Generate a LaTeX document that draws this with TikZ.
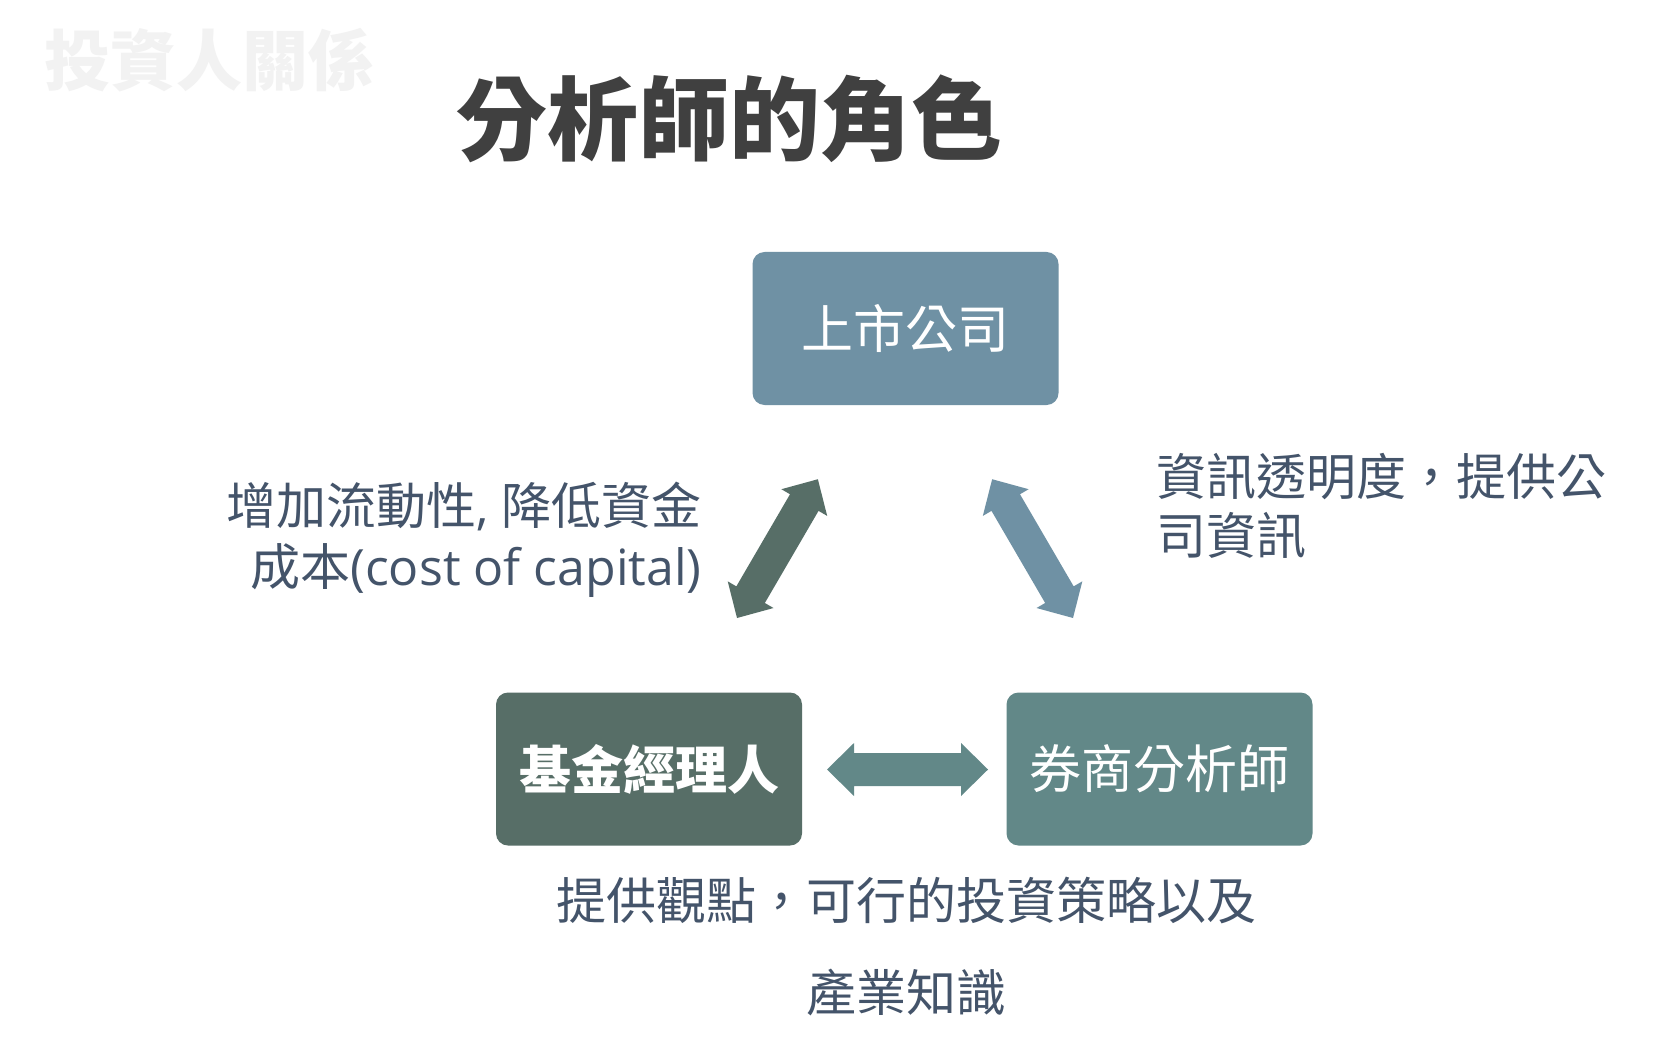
\documentclass[tikz,border=0pt]{standalone}
\usepackage{fontspec}
\setmainfont{Noto Sans CJK TC}
\newfontfamily\latinf{Open Sans}
\usetikzlibrary{calc}
\definecolor{cTop}{HTML}{6F91A4}
\definecolor{cFund}{HTML}{576E67}
\definecolor{cBroker}{HTML}{628888}
\definecolor{cLabel}{HTML}{44546A}
\definecolor{cTitle}{HTML}{404040}
\definecolor{cMark}{HTML}{F2F2F2}
% block double arrow between two named coordinates
\newcommand\blockarrow[3]{%
  \fill[#3] let \p1=(#1), \p2=(#2),
    \n1={atan2(\y2-\y1,\x2-\x1)}, \n2={veclen(\x2-\x1,\y2-\y1)} in
    [shift={(\p1)}, rotate=\n1]
    (0pt,0pt) -- (13.5pt,13.25pt) -- (13.5pt,8.25pt)
    -- ({(\n2-13.5)*1pt},8.25pt) -- ({(\n2-13.5)*1pt},13.25pt)
    -- ({\n2*1pt},0pt)
    -- ({(\n2-13.5)*1pt},-13.25pt) -- ({(\n2-13.5)*1pt},-8.25pt)
    -- (13.5pt,-8.25pt) -- (13.5pt,-13.25pt) -- cycle;}
\begin{document}
\begin{tikzpicture}[x=0.5pt,y=-0.5pt,
  box/.style={rounded corners=6pt, minimum width=153pt, minimum height=76.5pt,
    inner sep=0pt, text=white, font=\fontsize{26pt}{30pt}\selectfont},
  lbl/.style={text=cLabel, inner sep=0pt, font=\fontsize{25pt}{30pt}\selectfont}]
\useasboundingbox[fill=white] (0,0) rectangle (1668,1053);
\node[text=cMark, font=\bfseries\fontsize{33pt}{36pt}\selectfont, inner sep=0pt] (mark) at (209,60.5) {投資人關係};
\node[text=cTitle, font=\bfseries\fontsize{45.5pt}{50pt}\selectfont, inner sep=0pt] (title) at (729,119) {分析師的角色};
\node[box, fill=cTop] (listed) at (905.5,328.5) {上市公司};
\node[box, fill=cFund, font=\bfseries\fontsize{26pt}{30pt}\selectfont] (fund) at (649,769) {基金經理人};
\node[box, fill=cBroker] (broker) at (1159.5,769) {券商分析師};
% arrow end points
\coordinate (a1s) at (737,618);  \coordinate (a1e) at (818,479);
\coordinate (a2s) at (1073,618); \coordinate (a2e) at (992,479);
\coordinate (a3s) at (827,769.5); \coordinate (a3e) at (988,769.5);
\blockarrow{a1s}{a1e}{cFund}
\blockarrow{a2s}{a2e}{cTop}
\blockarrow{a3s}{a3e}{cBroker}
% labels
\node[lbl, anchor=base east] (l1a) at (702,524) {增加流動性{\latinf, }降低資金};
\node[lbl, anchor=base east] (l1b) at (702,585) {成本{\latinf(cost of capital)}};
\node[lbl, anchor=base west] (l2a) at (1156,495) {資訊透明度，提供公};
\node[lbl, anchor=base west] (l2b) at (1156,554) {司資訊};
\node[lbl, anchor=base] (l3a) at (906,919) {提供觀點，可行的投資策略以及};
\node[lbl, anchor=base] (l3b) at (906,1011) {產業知識};
\end{tikzpicture}
\end{document}
